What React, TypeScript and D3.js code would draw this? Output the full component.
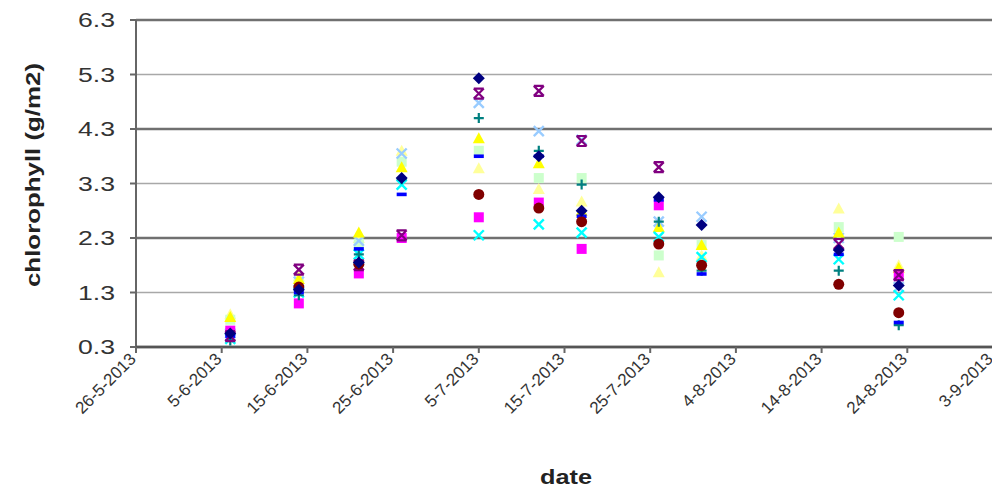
import React from "react";
import * as d3 from "d3";

// sampling dates (one cluster of points per date)
const dates = [
  "2013-06-06", "2013-06-14", "2013-06-21", "2013-06-26", "2013-07-05", "2013-07-12",
  "2013-07-17", "2013-07-26", "2013-07-31", "2013-08-16", "2013-08-23",
];

// series values (g/m2), null where no point is visible
const navyDiamond = [0.55, 1.35, 1.85, 3.4, 5.23, 3.8, 2.8, 3.05, 2.54, 2.08, 1.43];
const magentaSquare = [0.6, 1.1, 1.65, 2.3, 2.68, 2.95, 2.1, 2.9, null, null, 1.6];
const yellowTriangle = [0.85, 1.55, 2.4, 3.6, 4.13, 3.67, 2.8, 2.5, 2.17, 2.4, 1.75];
const cyanX = [0.45, 1.3, 2.0, 3.28, 2.35, 2.55, 2.4, 2.32, 1.95, 1.91, 1.25];
const purpleStar = [0.5, 1.72, 1.8, 2.35, 4.95, 5.0, 4.08, 3.6, null, 2.19, 1.62];
const darkRedCircle = [null, 1.4, 1.82, null, 3.1, 2.85, 2.6, 2.19, 1.8, 1.45, 0.93];
const tealPlus = [0.42, 1.25, 2.0, 3.38, 4.5, 3.9, 3.28, 2.6, 1.7, 1.7, 0.7];
const blueDash = [0.5, 1.3, 2.1, 3.1, 3.8, 3.8, 2.7, 3.0, 1.64, 2.0, 0.75];
const lightGreenSquare = [0.8, 1.45, 2.2, 3.7, 3.9, 3.4, 3.4, 1.98, 2.17, 2.5, 2.32];
const lightYellowTriangle = [0.9, 1.6, 2.3, 3.9, 3.58, 3.2, 2.97, 1.67, 1.98, 2.84, 1.8];
const lightBlueX = [0.55, 1.5, 2.25, 3.85, 4.78, 4.26, 4.1, 2.6, 2.69, 2.3, 1.4];

const yTicks = [0.3, 1.3, 2.3, 3.3, 4.3, 5.3, 6.3];
const xTickLabels = [
  "26-5-2013", "5-6-2013", "15-6-2013", "25-6-2013", "5-7-2013", "15-7-2013",
  "25-7-2013", "4-8-2013", "14-8-2013", "24-8-2013", "3-9-2013",
];

type Shape = "diamond" | "square" | "triangle" | "x" | "star" | "circle" | "plus" | "dash";

const series: { values: (number | null)[]; color: string; shape: Shape }[] = [
  { values: lightYellowTriangle, color: "#FFFF99", shape: "triangle" },
  { values: lightGreenSquare, color: "#CCFFCC", shape: "square" },
  { values: lightBlueX, color: "#99CCFF", shape: "x" },
  { values: yellowTriangle, color: "#FFFF00", shape: "triangle" },
  { values: cyanX, color: "#00FFFF", shape: "x" },
  { values: magentaSquare, color: "#FF00FF", shape: "square" },
  { values: tealPlus, color: "#008080", shape: "plus" },
  { values: blueDash, color: "#0000FF", shape: "dash" },
  { values: purpleStar, color: "#800080", shape: "star" },
  { values: darkRedCircle, color: "#800000", shape: "circle" },
  { values: navyDiamond, color: "#000080", shape: "diamond" },
];

const parse = d3.timeParse("%Y-%m-%d");
const margin = { left: 136, right: 7, top: 20, bottom: 151 };
const width = 1000;
const height = 496;

function Marker({ shape, color }: { shape: Shape; color: string }) {
  const s = 5;
  switch (shape) {
    case "diamond":
      return <path d={`M0,${-s - 1}L${s + 1},0L0,${s + 1}L${-s - 1},0Z`} fill={color} />;
    case "square":
      return <rect x={-s} y={-s} width={2 * s} height={2 * s} fill={color} />;
    case "triangle":
      return <path d={`M0,${-s - 1}L${s + 1},${s}L${-s - 1},${s}Z`} fill={color} />;
    case "circle":
      return <circle r={s + 0.5} fill={color} />;
    case "x":
      return <path d={`M${-s},${-s}L${s},${s}M${s},${-s}L${-s},${s}`} stroke={color} strokeWidth={2.4} />;
    case "star":
      return (
        <path
          d={`M${-s},${-s}L${s},${s}M${s},${-s}L${-s},${s}M${-s},${-s}L${s},${-s}M${-s},${s}L${s},${s}`}
          stroke={color}
          strokeWidth={2.2}
        />
      );
    case "plus":
      return <path d={`M0,${-s}L0,${s}M${-s},0L${s},0`} stroke={color} strokeWidth={2.2} />;
    case "dash":
      return <rect x={-s} y={-1.8} width={2 * s} height={3.6} fill={color} />;
  }
}

export default function App() {
  const start = parse("2013-05-26")!;
  const x = d3
    .scaleTime()
    .domain([start, parse("2013-09-03")!])
    .range([margin.left, width - margin.right]);
  const y = d3
    .scaleLinear()
    .domain([0.3, 6.3])
    .range([height - margin.bottom + 2, margin.top]);

  const xs = xTickLabels.map((_, i) => x(d3.timeDay.offset(start, i * 10)));

  const font = "'Liberation Sans', Arial, sans-serif";
  const x0 = x.range()[0];
  const x1 = x.range()[1];
  const yb = y(0.3);
  const yt = y(6.3);

  return (
    <svg width={width} height={height} style={{ display: "block", margin: "-8px", background: "#fff" }}>
      {/* gridlines */}
      {yTicks.map((t, i) => (
        <line
          key={t}
          x1={x0}
          x2={x1}
          y1={y(t)}
          y2={y(t)}
          stroke={i % 2 === 0 ? "#707070" : "#a8a8a8"}
          strokeWidth={i % 2 === 0 ? 2.5 : 1.5}
        />
      ))}
      <line x1={x1} x2={x1} y1={yt} y2={yb} stroke="#8c8c8c" strokeWidth={2} />
      {/* axes */}
      <line x1={x0} x2={x0} y1={yt} y2={yb} stroke="#666" strokeWidth={2} />
      <line x1={x0} x2={x1} y1={yb} y2={yb} stroke="#555" strokeWidth={2.5} />
      {yTicks.map((t) => (
        <g key={t}>
          <line x1={x0 - 6} x2={x0} y1={y(t)} y2={y(t)} stroke="#666" strokeWidth={2} />
          <text
            x={115}
            y={y(t)}
            dy="0.36em"
            textAnchor="end"
            fontFamily={font}
            fontSize={20}
            textLength={37}
            lengthAdjust="spacingAndGlyphs"
            fill="#333"
          >
            {t.toFixed(1)}
          </text>
        </g>
      ))}
      {xs.map((px, i) => (
        <g key={i}>
          <line x1={px} x2={px} y1={yb} y2={yb + 6} stroke="#666" strokeWidth={2} />
          <text
            transform={`translate(${px + 1},${yb + 13}) rotate(-45)`}
            textAnchor="end"
            fontFamily={font}
            fontSize={17}
            fill="#333"
          >
            {xTickLabels[i]}
          </text>
        </g>
      ))}
      {/* points */}
      {series.map((s, si) => (
        <g key={si}>
          {s.values.map((v, i) =>
            v == null ? null : (
              <g key={i} transform={`translate(${x(parse(dates[i])!)},${y(v)})`}>
                <Marker shape={s.shape} color={s.color} />
              </g>
            )
          )}
        </g>
      ))}
      <text
        transform={`translate(40,175) rotate(-90)`}
        textAnchor="middle"
        fontFamily={font}
        fontSize={21}
        fontWeight="bold"
        textLength={224}
        lengthAdjust="spacingAndGlyphs"
        fill="#222"
      >
        chlorophyll (g/m2)
      </text>
      <text
        x={566}
        y={484}
        textAnchor="middle"
        fontFamily={font}
        fontSize={21}
        fontWeight="bold"
        textLength={52}
        lengthAdjust="spacingAndGlyphs"
        fill="#222"
      >
        date
      </text>
    </svg>
  );
}
